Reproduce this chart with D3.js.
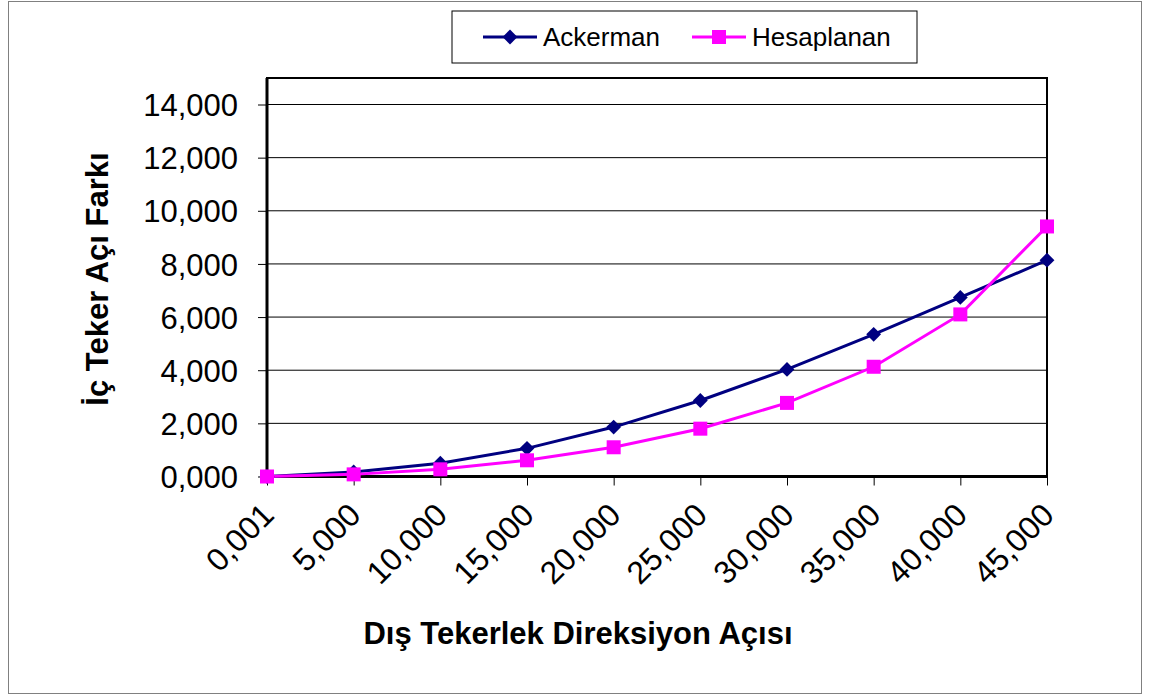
<!DOCTYPE html>
<html>
<head>
<meta charset="utf-8">
<script src="https://cdn.jsdelivr.net/npm/d3@7"></script>
<style>
  body { margin: 0; background: #fff; }
  text { font-family: "Liberation Sans", Arial, sans-serif; fill: #000; }
</style>
</head>
<body>
<div class="stage"></div>
<script>
var categories = ["0,001", "5,000", "10,000", "15,000", "20,000", "25,000", "30,000", "35,000", "40,000", "45,000"];
var ackerman = [0, 0.17, 0.50, 1.06, 1.86, 2.86, 4.03, 5.35, 6.74, 8.14];
var hesaplanan = [0, 0.08, 0.27, 0.61, 1.10, 1.80, 2.77, 4.13, 6.10, 9.41];
var yTicks = [0, 2, 4, 6, 8, 10, 12, 14];
var seriesNames = ["Ackerman", "Hesaplanan"];
var seriesColors = ["#000080", "#ff00ff"];

var chart = {};
chart.svg = d3.select(".stage").append("svg").attr("width", 1149).attr("height", 696);

// outer chart frame
chart.svg.append("rect")
  .attr("x", 8.5).attr("y", 1.5).attr("width", 1133).attr("height", 692)
  .attr("fill", "#fff").attr("stroke", "#808080").attr("stroke-width", 1);

// plot area box ("top" is taken by window.top, so use other names)
var pLeft = 267, pRight = 1047, pTop = 78, pBottom = 476.5;

var x = d3.scalePoint().domain(categories).range([pLeft, pRight]);
var y = d3.scaleLinear().domain([0, 14]).range([pBottom, 104.5]);

var trLocale = d3.formatLocale({ decimal: ",", thousands: ".", grouping: [3], currency: ["", ""] });
var fmt = trLocale.format(".3f");

// gridlines
chart.svg.selectAll("line.grid").data(yTicks.slice(1)).enter()
  .append("line")
  .attr("class", "grid")
  .attr("x1", pLeft).attr("x2", pRight)
  .attr("y1", function(d){ return y(d); })
  .attr("y2", function(d){ return y(d); })
  .attr("stroke", "#000").attr("stroke-width", 1);

// plot area border
chart.svg.append("rect")
  .attr("x", pLeft).attr("y", pTop).attr("width", pRight - pLeft).attr("height", pBottom - pTop)
  .attr("fill", "none").attr("stroke", "#000").attr("stroke-width", 2);

// y axis
var yAxis = chart.svg.append("g")
  .attr("transform", "translate(" + pLeft + ",0)")
  .call(d3.axisLeft(y).tickValues(yTicks).tickFormat(fmt).tickSize(9).tickPadding(20));
yAxis.select(".domain").remove();
yAxis.selectAll("line").attr("stroke", "#000").attr("stroke-width", 1);
yAxis.selectAll("text").style("font-size", "31px").attr("dy", "0.36em");

// x axis
var xAxis = chart.svg.append("g")
  .attr("transform", "translate(0," + pBottom + ")")
  .call(d3.axisBottom(x).tickSize(9).tickPadding(0));
xAxis.select(".domain").remove();
xAxis.selectAll("line").attr("stroke", "#000").attr("stroke-width", 1);
xAxis.selectAll("text")
  .style("font-size", "32px")
  .attr("text-anchor", "end")
  .attr("dy", "0")
  .attr("transform", "translate(2,34) rotate(-45)");

// axis lines (thick)
chart.svg.append("line").attr("x1", pLeft).attr("x2", pLeft).attr("y1", pTop).attr("y2", pBottom + 1)
  .attr("stroke", "#000").attr("stroke-width", 3);
chart.svg.append("line").attr("x1", pLeft).attr("x2", pRight + 1).attr("y1", pBottom).attr("y2", pBottom)
  .attr("stroke", "#000").attr("stroke-width", 3);

// axis titles
chart.svg.append("text")
  .attr("x", 578).attr("y", 644)
  .attr("text-anchor", "middle")
  .style("font-size", "31px").style("font-weight", "bold")
  .text("Dış Tekerlek Direksiyon Açısı");

chart.svg.append("text")
  .attr("transform", "translate(108,279) rotate(-90)")
  .attr("text-anchor", "middle")
  .style("font-size", "31px").style("font-weight", "bold")
  .text("İç Teker Açı Farkı");

// lines
var line = d3.line()
  .x(function(d, i){ return x(categories[i]); })
  .y(function(d){ return y(d); });

chart.svg.append("path").datum(ackerman)
  .attr("d", line).attr("fill", "none").attr("stroke", seriesColors[0]).attr("stroke-width", 3);
chart.svg.append("path").datum(hesaplanan)
  .attr("d", line).attr("fill", "none").attr("stroke", seriesColors[1]).attr("stroke-width", 3);

// markers
var diamond = d3.symbol().type(d3.symbolDiamond2).size(140);
chart.svg.selectAll("path.ack").data(ackerman).enter()
  .append("path")
  .attr("class", "ack")
  .attr("d", diamond)
  .attr("transform", function(d, i){ return "translate(" + x(categories[i]) + "," + y(d) + ")"; })
  .attr("fill", seriesColors[0]);

chart.svg.selectAll("rect.hes").data(hesaplanan).enter()
  .append("rect")
  .attr("class", "hes")
  .attr("x", function(d, i){ return x(categories[i]) - 7; })
  .attr("y", function(d){ return y(d) - 7; })
  .attr("width", 14).attr("height", 14)
  .attr("fill", seriesColors[1]);

// legend
var legend = chart.svg.append("g");
legend.append("rect")
  .attr("x", 452).attr("y", 11).attr("width", 465).attr("height", 52)
  .attr("fill", "#fff").attr("stroke", "#000").attr("stroke-width", 1);

var legendX = [483, 692];
seriesNames.forEach(function(name, i){
  var lx = legendX[i];
  legend.append("line")
    .attr("x1", lx).attr("x2", lx + 54).attr("y1", 37).attr("y2", 37)
    .attr("stroke", seriesColors[i]).attr("stroke-width", 3);
  if (i === 0) {
    legend.append("path").attr("d", diamond)
      .attr("transform", "translate(" + (lx + 27) + ",37)").attr("fill", seriesColors[i]);
  } else {
    legend.append("rect").attr("x", lx + 20).attr("y", 30).attr("width", 14).attr("height", 14)
      .attr("fill", seriesColors[i]);
  }
  legend.append("text")
    .attr("x", lx + 60).attr("y", 46)
    .style("font-size", "26px")
    .text(name);
});
</script>
</body>
</html>
